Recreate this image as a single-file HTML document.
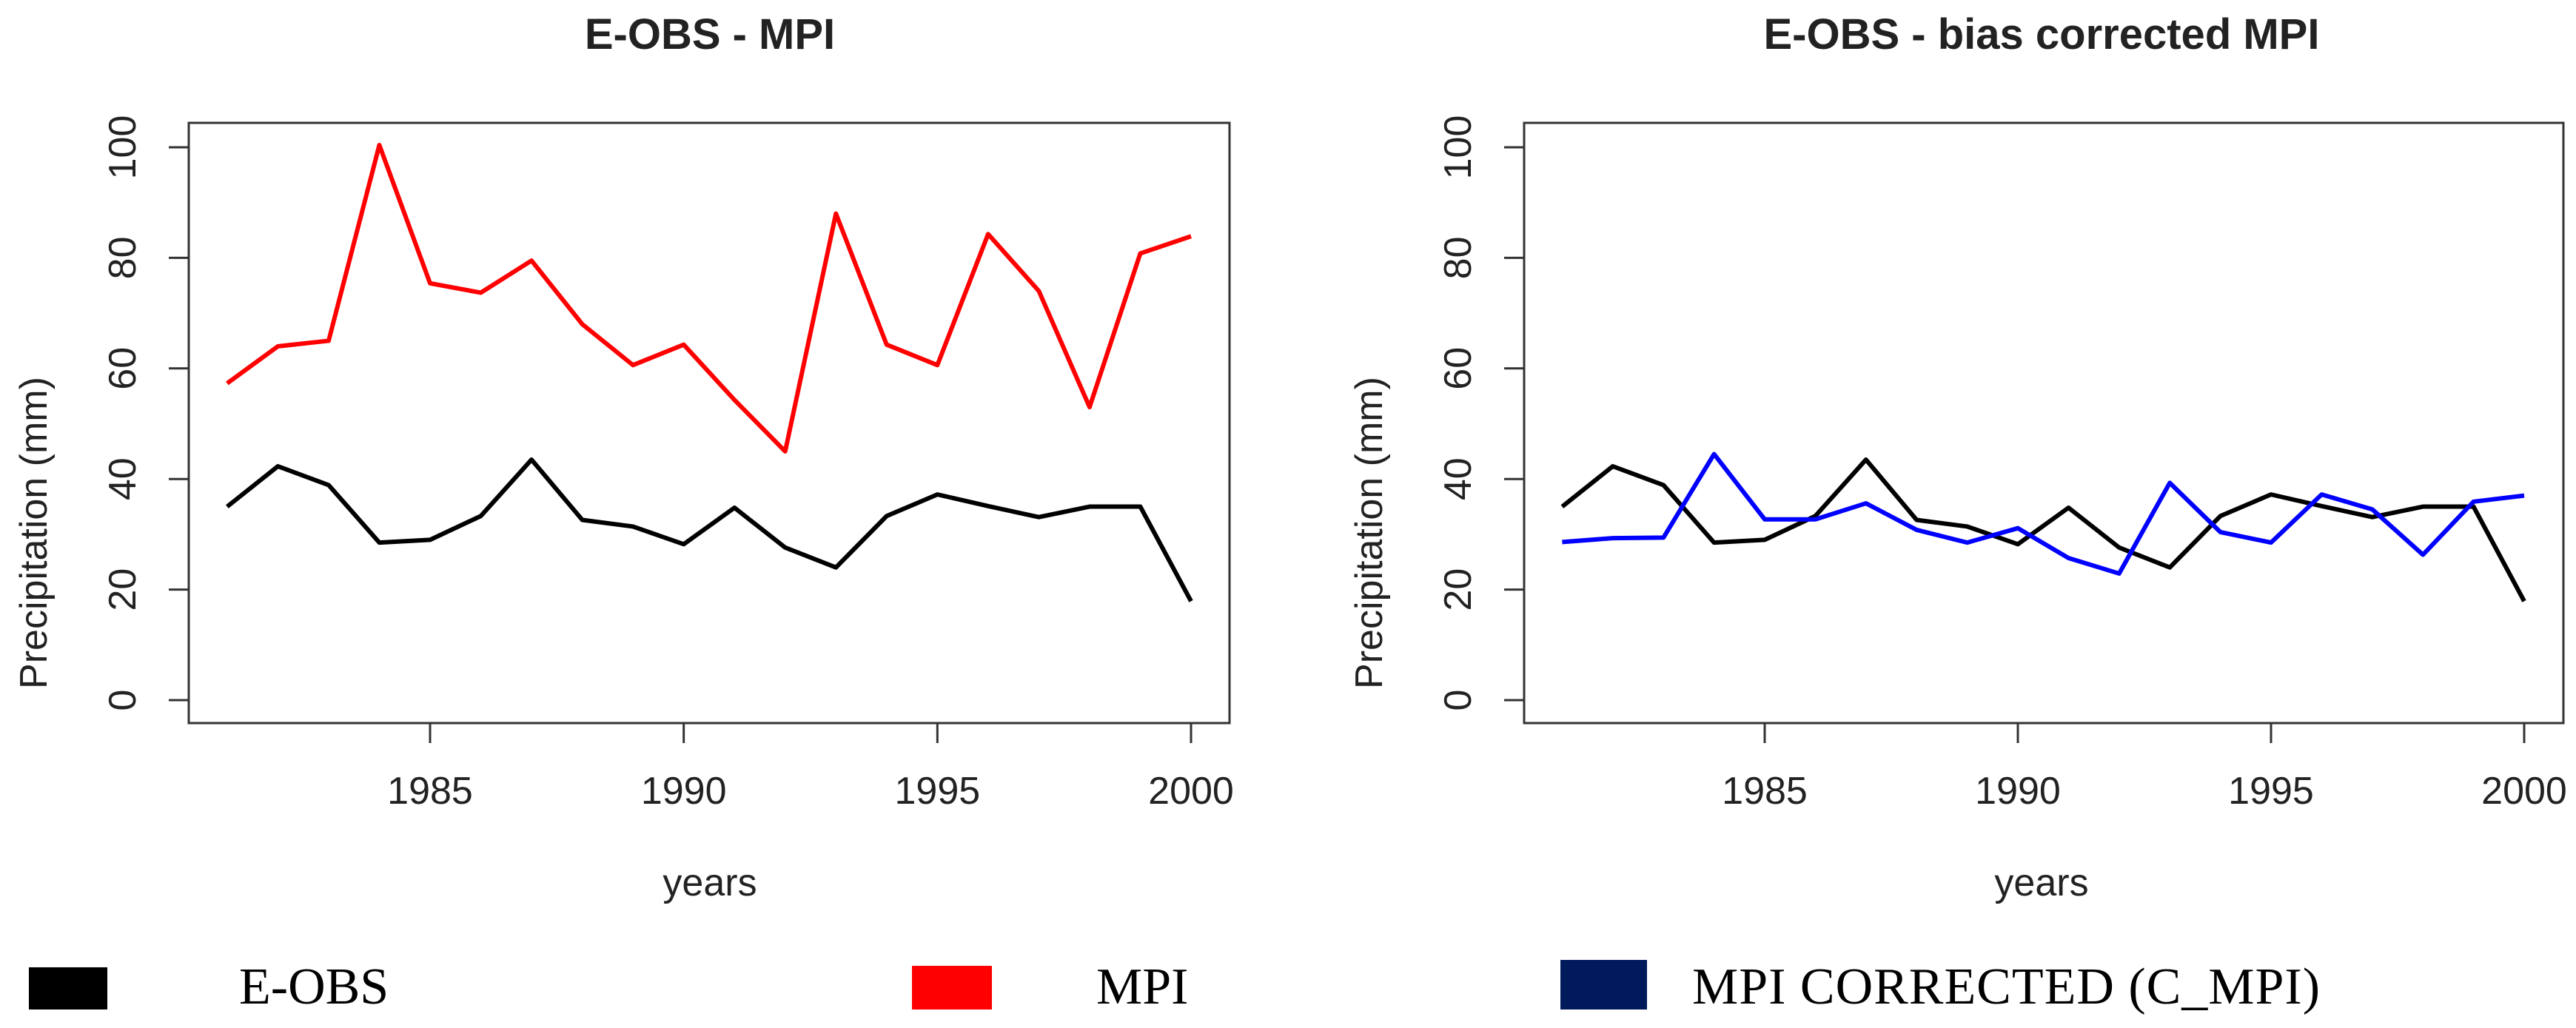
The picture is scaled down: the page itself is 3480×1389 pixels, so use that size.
<!DOCTYPE html>
<html><head><meta charset="utf-8"><style>
html,body{margin:0;padding:0;background:#fff;}
svg{display:block;}
.t{font-family:"Liberation Sans",sans-serif;fill:#222;}
.s{font-family:"Liberation Serif",serif;fill:#000;}
</style></head><body>
<svg id="chart" width="3480" height="1389" viewBox="0 0 3480 1389" xmlns="http://www.w3.org/2000/svg">
<g id="p1"></g>
<g id="p2"></g>
<g>
<rect x="39" y="1307" width="106" height="57" fill="#000"/>
<text class="s" x="323" y="1356" font-size="70">E-OBS</text>
<rect x="1232" y="1305" width="108" height="59" fill="#ff0000"/>
<text class="s" x="1481" y="1356" font-size="70">MPI</text>
<rect x="2108" y="1297" width="117" height="67" fill="#001a5c"/>
<text class="s" x="2286" y="1356" font-size="70" textLength="848">MPI CORRECTED (C_MPI)</text>
</g>
</svg>
<script>
const years = [1981,1982,1983,1984,1985,1986,1987,1988,1989,1990,1991,1992,1993,1994,1995,1996,1997,1998,1999,2000];
const eobs = [35,42.3,38.9,28.5,29,33.3,43.5,32.6,31.4,28.2,34.8,27.6,24,33.3,37.2,35.1,33.1,35,35,17.9];
const mpi = [57.3,64,65,100.4,75.4,73.7,79.5,68,60.6,64.3,54.3,45,88,64.3,60.6,84.3,74,53,80.8,83.9];
const mpiCorrected = [28.6,29.3,29.4,44.5,32.7,32.7,35.6,30.8,28.5,31.1,25.7,22.9,39.3,30.4,28.5,37.2,34.5,26.3,35.9,37];
const yTicks = [0,20,40,60,80,100];
const xTicks = [1985,1990,1995,2000];

const NS='http://www.w3.org/2000/svg';
function mk(parent, tag, attrs, text){
  const e=document.createElementNS(NS,tag);
  for(const k in attrs) e.setAttribute(k,attrs[k]);
  if(text!==undefined) e.textContent=text;
  parent.appendChild(e); return e;
}
function panel(g, cfg, title, series){
  const xS = v => cfg.x1985 + (v-1985)*(cfg.x2000-cfg.x1985)/15;
  const yS = v => 946 - v*(946-199)/100;
  const box = mk(g,'rect',{x:cfg.left,y:166,width:cfg.right-cfg.left,height:811,fill:'none',stroke:'#333','stroke-width':3});
  
  
  const tt = mk(g,'text',{class:'t',x:cfg.titleX,y:66,'font-size':58,'font-weight':'bold','text-anchor':'middle',fill:'#000'},title);
  
  
  yTicks.forEach(v=>{
    const y=yS(v);
    const l=mk(g,'line',{x1:cfg.left-27,x2:cfg.left,y1:y,y2:y,stroke:'#333','stroke-width':3});
    
    
    const t=mk(g,'text',{class:'t',x:0,y:0,'font-size':52,'text-anchor':'middle',transform:`translate(${cfg.yLabX+18},${y}) rotate(-90)`},String(v));
    
    
  });
  xTicks.forEach(v=>{
    const x=xS(v);
    const l=mk(g,'line',{x1:x,x2:x,y1:977,y2:1004,stroke:'#333','stroke-width':3});
    
    
    const t=mk(g,'text',{class:'t',x:x,y:1086,'font-size':52,'text-anchor':'middle'},String(v));
    
    
  });
  const yt=mk(g,'text',{class:'t',x:0,y:0,'font-size':52,'text-anchor':'middle',transform:`translate(${cfg.yTitleX+18},720) rotate(-90)`},'Precipitation (mm)');
  
  
  const xt=mk(g,'text',{class:'t',x:cfg.titleX,y:1210,'font-size':52,'text-anchor':'middle'},'years');
  
  
  series.forEach(s=>{
    const pts=years.map((yr,i)=>xS(yr)+','+yS(s.vals[i])).join(' ');
    const p=mk(g,'polyline',{points:pts,fill:'none',stroke:s.color,'stroke-width':6,'stroke-linejoin':'round'});
    
    
  });
}
panel(document.getElementById('p1'),{left:255,right:1661,x1985:581,x2000:1609,yLabX:165,yTitleX:45,titleX:959},'E-OBS - MPI',
  [{vals:mpi,color:'#ff0000',name:'line-mpi'},{vals:eobs,color:'#000',name:'line-eobs'}]);
panel(document.getElementById('p2'),{left:2059,right:3463,x1985:2384,x2000:3410,yLabX:1969,yTitleX:1849,titleX:2758},'E-OBS - bias corrected MPI',
  [{vals:eobs,color:'#000',name:'line-eobs'},{vals:mpiCorrected,color:'#0000ff',name:'line-mpi-corrected'}]);
</script>
</body></html>
